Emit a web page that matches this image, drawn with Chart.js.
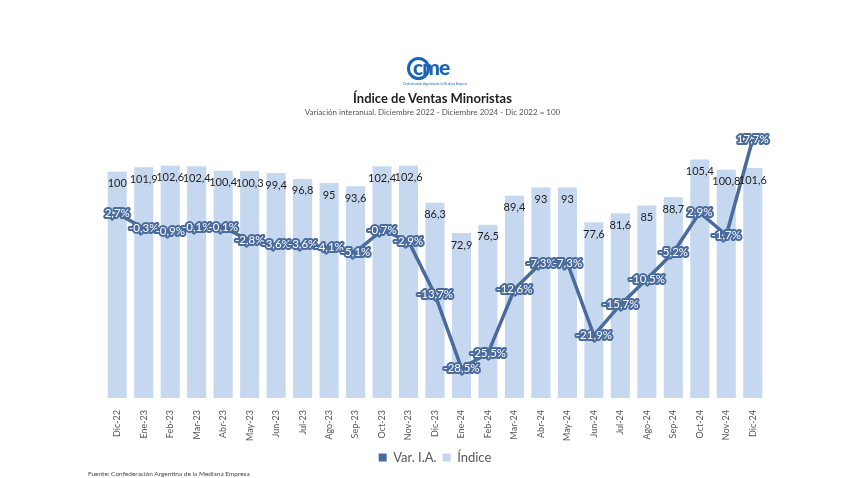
<!DOCTYPE html>
<html>
<head>
<meta charset="utf-8">
<script src="https://cdn.jsdelivr.net/npm/chart.js@4.4.1/dist/chart.umd.min.js"></script>
<style>
  html, body { margin: 0; padding: 0; background: #fff; }
  #wrap { position: relative; width: 850px; height: 478px; overflow: hidden; font-family: Lato, "Open Sans", sans-serif; }
  canvas { position: absolute; left: 0; top: 0; }
  .logo { position: absolute; left: 403px; top: 54px; width: 62px; height: 36px; }
  .logo .circ { position: absolute; left: 4px; top: 3px; width: 23px; height: 23px; border: 3.5px solid #1b64b5; border-radius: 50%; box-sizing: border-box; }
  .logo .txt { position: absolute; left: 10px; top: 0px; font: 900 21px Lato, sans-serif; color: #1b64b5; letter-spacing: -1px; line-height: 26px; }
  .logo .sub { position: absolute; left: 0; top: 28px; width: 62px; font: 3px Lato, sans-serif; color: #1b64b5; white-space: nowrap; text-align: center; }
  .title { position: absolute; left: 0; width: 865px; top: 90px; text-align: center; font: bold 13px Lato, sans-serif; color: #222; }
  .subtitle { position: absolute; left: 0; width: 865px; top: 107px; text-align: center; font: 8px Lato, sans-serif; color: #555; }
  .footer { position: absolute; left: 88px; top: 470px; font: 6.5px Lato, sans-serif; color: #444; }
</style>
</head>
<body>
<div id="wrap">
  <canvas id="c" width="850" height="478"></canvas>
  <div class="logo">
    <div class="circ"></div><div class="txt">cme</div>
    <div class="sub">Confederación Argentina de la Mediana Empresa</div>
  </div>
  <div class="title">Índice de Ventas Minoristas</div>
  <div class="subtitle">Variación interanual. Diciembre 2022 - Diciembre 2024 - Dic 2022 = 100</div>
  <div class="footer">Fuente: Confederación Argentina de la Mediana Empresa</div>
</div>
<script>
const categories = ["Dic-22","Ene-23","Feb-23","Mar-23","Abr-23","May-23","Jun-23","Jul-23","Ago-23","Sep-23","Oct-23","Nov-23","Dic-23","Ene-24","Feb-24","Mar-24","Abr-24","May-24","Jun-24","Jul-24","Ago-24","Sep-24","Oct-24","Nov-24","Dic-24"];
const indice = [100,101.9,102.6,102.4,100.4,100.3,99.4,96.8,95,93.6,102.4,102.6,86.3,72.9,76.5,89.4,93,93,77.6,81.6,85,88.7,105.4,100.8,101.6];
const varIA = [2.7,-0.3,-0.9,-0.1,-0.1,-2.8,-3.6,-3.6,-4.1,-5.1,-0.7,-2.9,-13.7,-28.5,-25.5,-12.6,-7.3,-7.3,-21.9,-15.7,-10.5,-5.2,2.9,-1.7,17.7];

const LINE = '#4a6b9d';
const BAR = '#c6d8f0';
const fmt = v => v.toFixed(1).replace(/\.0$/, '').replace('.', ',');

const labelPlugin = {
  id: 'labels',
  afterDatasetsDraw(chart) {
    const ctx = chart.ctx;
    ctx.save();
    const barMeta = chart.getDatasetMeta(1);
    ctx.font = '11px Lato, sans-serif';
    ctx.textAlign = 'center';
    ctx.textBaseline = 'middle';
    ctx.fillStyle = '#222';
    barMeta.data.forEach((el, i) => {
      ctx.fillText(fmt(indice[i]), el.x, el.y + 12);
    });
    const lineMeta = chart.getDatasetMeta(0);
    ctx.font = '11.5px Lato, sans-serif';
    ctx.lineJoin = 'round';
    lineMeta.data.forEach((el, i) => {
      const t = fmt(varIA[i]) + '%';
      ctx.strokeStyle = LINE;
      ctx.lineWidth = 4;
      ctx.strokeText(t, el.x, el.y);
      ctx.fillStyle = '#fff';
      ctx.fillText(t, el.x, el.y);
    });
    ctx.restore();
  }
};

new Chart(document.getElementById('c'), {
  data: {
    labels: categories,
    datasets: [
      { type: 'line', label: 'Var. I.A.', data: varIA, yAxisID: 'yLine', borderColor: LINE, backgroundColor: LINE, borderWidth: 3.5, pointRadius: 0, tension: 0, order: 0 },
      { type: 'bar', label: 'Índice', data: indice, yAxisID: 'yBar', backgroundColor: BAR, borderWidth: 0, barPercentage: 0.72, categoryPercentage: 1, order: 1 }
    ]
  },
  options: {
    responsive: false,
    animation: false,
    layout: { padding: { left: 104, right: 84, top: 130, bottom: 4 } },
    plugins: {
      tooltip: { enabled: false },
      legend: {
        position: 'bottom',
        labels: {
          font: { family: 'Lato, sans-serif', size: 13 },
          color: '#595959',
          boxWidth: 8, boxHeight: 8, padding: 6,
          generateLabels(chart) {
            return chart.data.datasets.map((d, i) => ({ text: d.label, fillStyle: i === 0 ? LINE : BAR, strokeStyle: i === 0 ? LINE : BAR, lineWidth: 0, datasetIndex: i, fontColor: '#595959' }));
          }
        }
      }
    },
    scales: {
      x: {
        grid: { display: false }, border: { display: false },
        ticks: { minRotation: 90, maxRotation: 90, font: { family: 'Lato, sans-serif', size: 9 }, color: '#595959', padding: 4 }
      },
      yBar: { display: false, min: 0, max: 118.4 },
      yLine: { display: false, min: -34.5, max: 19.5 }
    }
  },
  plugins: [labelPlugin]
});
</script>
</body>
</html>
